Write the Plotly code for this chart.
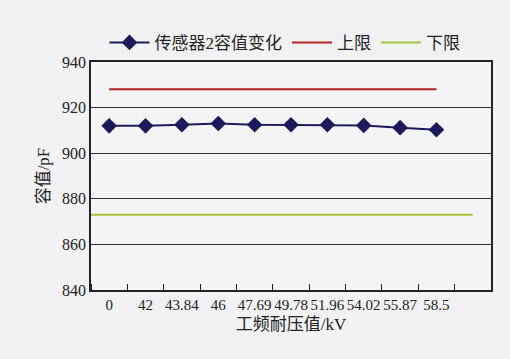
import plotly.graph_objects as go

categories = ["0", "42", "43.84", "46", "47.69", "49.78", "51.96", "54.02", "55.87", "58.5"]
sensor2_capacitance = [912.0, 912.0, 912.5, 913.0, 912.5, 912.5, 912.5, 912.2, 911.2, 910.3]
upper_limit = [928, 928, 928, 928, 928, 928, 928, 928, 928, 928]
lower_limit_x = [-0.5, 10]
lower_limit = [873, 873]
y_ticks = [840, 860, 880, 900, 920, 940]

font_family = "Liberation Serif, 'Noto Sans CJK SC', serif"
idx = list(range(len(categories)))

fig = go.Figure()
fig.add_trace(go.Scatter(
    x=idx, y=sensor2_capacitance, name="传感器2容值变化", mode="lines+markers",
    line=dict(color="#1b1b5c", width=2),
    marker=dict(symbol="diamond", size=12, color="#1b1b5c"),
))
fig.add_trace(go.Scatter(
    x=idx, y=upper_limit, name="上限", mode="lines",
    line=dict(color="#b0241c", width=2),
))
fig.add_trace(go.Scatter(
    x=lower_limit_x, y=lower_limit, name="下限", mode="lines",
    line=dict(color="#a6c43c", width=2),
))

fig.update_layout(
    width=510, height=359,
    margin=dict(l=91, r=19, t=62, b=69),
    paper_bgcolor="#f2f2f4", plot_bgcolor="#f4f4f6",
    font=dict(family=font_family, size=15, color="#222222"),
    showlegend=True,
    legend=dict(orientation="h", x=0.485, xanchor="center", y=1.005, yanchor="bottom",
                font=dict(size=17), bgcolor="rgba(0,0,0,0)", itemwidth=40,
                tracegroupgap=0),
    xaxis=dict(
        range=[-0.5, 10.5], tickmode="array", tickvals=idx, ticktext=categories,
        ticks="", showgrid=False, zeroline=False,
        showline=True, linecolor="#222222", linewidth=1.5, mirror=True,
        minor=dict(ticks="inside", tick0=0.5, dtick=1, ticklen=6, tickcolor="#222222", showgrid=False),
        tickfont=dict(size=15),
        title=dict(text="工频耐压值/kV", font=dict(size=17), standoff=6),
    ),
    yaxis=dict(
        range=[840, 940], tickmode="array", tickvals=y_ticks,
        ticks="", showgrid=True, gridcolor="#333333", gridwidth=1, zeroline=False,
        showline=True, linecolor="#222222", linewidth=1.5, mirror=True,
        tickfont=dict(size=16),
        title=dict(text="容值/pF", font=dict(size=17), standoff=8),
    ),
)

fig.write_html("out.html")
